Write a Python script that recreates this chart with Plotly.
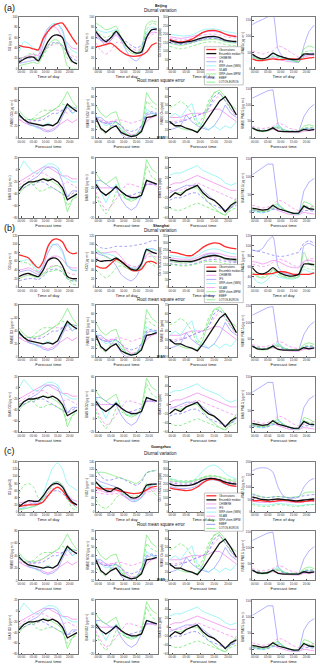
import plotly.graph_objects as go

W, H = 320, 664

# hourly samples (every 2 h) shared by every panel
HOURS = list(range(-1, 24, 2))
TICK_HOURS = [0, 5, 10, 15, 20]
TICK_TEXT = ["00:00", "05:00", "10:00", "15:00", "20:00"]

LEGEND_ORDER = ["obs", "med", "chimere", "ifs", "wrfsms", "silam", "wrfmpim", "emep", "lotos"]
LEGEND_TEXT = ["Observations", "Ensemble median", "CHIMERE", "IFS", "WRF-chem (SMS)",
               "SILAM", "WRF-chem-MPIM", "EMEP", "LOTOS-EUROS"]

STYLE = {
    "obs": dict(color="#FF2A2A", width=1.3, dash="solid"),
    "med": dict(color="#111111", width=1.3, dash="solid"),
    "chimere": dict(color="#EE80EE", width=0.7, dash="solid"),
    "ifs": dict(color="#9090FF", width=0.7, dash="solid"),
    "wrfsms": dict(color="#78F0F0", width=0.7, dash="solid"),
    "silam": dict(color="#F590EE", width=0.8, dash="3px,2px"),
    "wrfmpim": dict(color="#74E874", width=0.7, dash="solid"),
    "emep": dict(color="#8484F2", width=0.8, dash="3px,2px"),
    "lotos": dict(color="#74E874", width=0.8, dash="3px,2px"),
}
DRAW_ORDER = ["chimere", "ifs", "wrfsms", "silam", "wrfmpim", "emep", "lotos", "obs", "med"]

# ---------------- Beijing diurnal ----------------
BJ_O3 = dict(
    obs=[45, 42, 41, 38, 36, 58, 72, 82, 87, 88, 75, 60, 47],
    med=[12, 18, 22, 22, 15, 33, 52, 63, 65, 60, 30, 14, 9],
    wrfsms=[32, 52, 48, 40, 34, 55, 78, 87, 86, 70, 45, 35, 30],
    ifs=[10, 12, 14, 16, 18, 45, 72, 84, 86, 75, 35, 15, 10],
    chimere=[20, 22, 25, 28, 25, 60, 78, 82, 76, 60, 50, 40, 38],
    silam=[18, 20, 22, 24, 28, 35, 42, 46, 48, 42, 35, 25, 22],
    wrfmpim=[5, 8, 10, 12, 10, 28, 45, 55, 55, 40, 5, 0, 0],
    lotos=[20, 22, 28, 30, 15, 25, 40, 48, 50, 45, 20, 12, 10],
    emep=[15, 20, 20, 22, 22, 30, 45, 50, 50, 45, 30, 20, 15],
)
BJ_NO2 = dict(
    obs=[42, 44, 47, 49, 42, 33, 27, 24, 24, 26, 32, 45, 50],
    med=[72, 60, 52, 60, 72, 60, 45, 35, 30, 32, 60, 75, 77],
    wrfmpim=[88, 82, 75, 78, 82, 60, 40, 30, 28, 40, 85, 92, 90],
    ifs=[70, 55, 45, 55, 70, 55, 35, 20, 15, 25, 60, 75, 75],
    wrfsms=[78, 72, 70, 72, 75, 60, 45, 35, 30, 40, 70, 80, 78],
    chimere=[65, 55, 50, 55, 65, 55, 45, 35, 30, 35, 60, 70, 70],
    silam=[50, 35, 28, 35, 50, 50, 45, 40, 35, 40, 55, 65, 70],
    emep=[60, 55, 55, 60, 68, 60, 52, 45, 40, 45, 65, 75, 75],
    lotos=[75, 65, 60, 65, 75, 60, 45, 35, 30, 35, 75, 88, 85],
)
BJ_OX = dict(
    obs=[170, 160, 155, 160, 170, 190, 210, 220, 222, 215, 200, 190, 185],
    med=[165, 155, 150, 155, 160, 170, 180, 185, 187, 180, 165, 160, 158],
    wrfsms=[200, 195, 190, 190, 195, 210, 225, 230, 230, 225, 215, 210, 205],
    chimere=[185, 180, 175, 180, 185, 195, 210, 215, 215, 210, 200, 195, 190],
    ifs=[160, 150, 145, 150, 155, 165, 175, 180, 180, 170, 160, 155, 150],
    wrfmpim=[150, 140, 135, 140, 150, 160, 165, 168, 170, 165, 155, 150, 148],
    silam=[175, 170, 165, 170, 175, 185, 195, 200, 200, 195, 185, 180, 178],
    emep=[150, 145, 140, 145, 150, 160, 170, 175, 175, 170, 160, 155, 152],
    lotos=[130, 120, 115, 120, 130, 140, 150, 155, 155, 150, 140, 135, 132],
)
BJ_PM = dict(
    ifs=[136, 145, 152, 160, 168, 60, 35, 28, 25, 20, 70, 115, 135],
    obs=[30, 25, 25, 28, 30, 28, 28, 30, 30, 28, 30, 33, 35],
    med=[45, 35, 30, 35, 48, 40, 35, 30, 28, 30, 45, 45, 45],
    silam=[55, 50, 45, 50, 55, 70, 65, 55, 45, 35, 40, 45, 50],
    wrfmpim=[40, 30, 25, 35, 50, 40, 35, 30, 25, 20, 60, 70, 65],
    chimere=[30, 25, 25, 28, 35, 30, 25, 22, 20, 20, 35, 40, 40],
    wrfsms=[35, 30, 25, 30, 40, 35, 30, 25, 22, 20, 40, 45, 45],
    emep=[40, 35, 30, 35, 45, 40, 35, 30, 28, 25, 40, 45, 45],
    lotos=[35, 30, 28, 30, 38, 35, 30, 28, 25, 22, 50, 55, 55],
)

# ---------------- Shanghai diurnal ----------------
SH_O3 = dict(
    obs=[75, 72, 68, 55, 45, 60, 95, 110, 112, 105, 85, 78, 80],
    med=[25, 30, 32, 28, 25, 40, 62, 68, 65, 50, 25, 20, 20],
    wrfsms=[60, 62, 65, 50, 38, 60, 90, 100, 95, 80, 50, 40, 40],
    ifs=[35, 38, 40, 35, 30, 50, 80, 98, 100, 85, 50, 40, 38],
    chimere=[40, 42, 45, 40, 35, 45, 65, 72, 72, 65, 50, 45, 45],
    silam=[25, 28, 30, 28, 25, 32, 45, 50, 50, 45, 35, 30, 30],
    wrfmpim=[20, 25, 28, 25, 22, 30, 42, 48, 50, 40, 20, 15, 15],
    emep=[15, 18, 20, 20, 18, 25, 38, 42, 42, 35, 20, 15, 15],
    lotos=[60, 58, 55, 45, 35, 30, 35, 38, 40, 35, 20, 8, 5],
)
SH_NO2 = dict(
    obs=[50, 45, 45, 55, 65, 60, 50, 40, 38, 42, 58, 60, 55],
    med=[65, 60, 62, 62, 68, 60, 50, 42, 40, 55, 88, 82, 78],
    emep=[100, 92, 90, 92, 95, 95, 95, 96, 98, 100, 103, 108, 108],
    ifs=[80, 75, 72, 65, 50, 30, 20, 15, 25, 50, 85, 90, 85],
    wrfsms=[85, 80, 78, 75, 70, 60, 50, 45, 45, 60, 90, 88, 85],
    chimere=[80, 80, 80, 82, 82, 70, 55, 45, 45, 55, 75, 80, 78],
    silam=[70, 62, 60, 62, 65, 62, 55, 50, 48, 55, 70, 72, 70],
    wrfmpim=[90, 80, 70, 65, 60, 55, 45, 40, 40, 55, 85, 75, 60],
    lotos=[40, 30, 22, 30, 45, 50, 45, 40, 40, 45, 60, 55, 45],
)
SH_OX = dict(
    obs=[240, 235, 225, 215, 215, 240, 270, 290, 300, 295, 275, 265, 260],
    med=[185, 180, 175, 175, 175, 185, 200, 210, 215, 210, 195, 190, 188],
    wrfsms=[215, 210, 205, 200, 200, 215, 240, 255, 260, 255, 240, 230, 225],
    chimere=[200, 195, 190, 190, 190, 200, 220, 230, 232, 228, 215, 208, 205],
    ifs=[180, 178, 175, 172, 170, 185, 210, 225, 225, 210, 190, 180, 175],
    silam=[175, 170, 165, 165, 168, 180, 195, 200, 200, 195, 185, 180, 178],
    wrfmpim=[175, 170, 165, 165, 170, 185, 205, 215, 215, 205, 190, 185, 180],
    emep=[160, 155, 150, 150, 155, 165, 180, 185, 188, 185, 175, 170, 168],
    lotos=[155, 150, 145, 145, 150, 160, 170, 175, 175, 170, 160, 155, 152],
)
SH_PM = dict(
    ifs=[92, 90, 95, 110, 118, 60, 48, 45, 45, 42, 100, 105, 100],
    obs=[45, 45, 45, 46, 47, 50, 50, 48, 45, 45, 45, 45, 48],
    med=[58, 48, 46, 50, 58, 50, 45, 42, 42, 45, 65, 65, 64],
    silam=[65, 62, 60, 62, 68, 75, 72, 68, 62, 60, 70, 75, 75],
    chimere=[70, 68, 65, 68, 72, 70, 65, 60, 58, 58, 70, 72, 70],
    emep=[92, 90, 88, 85, 82, 80, 80, 82, 85, 88, 105, 110, 105],
    wrfmpim=[50, 40, 38, 42, 55, 45, 40, 38, 38, 40, 88, 65, 60],
    wrfsms=[42, 30, 28, 35, 45, 40, 38, 36, 36, 40, 55, 50, 48],
    lotos=[48, 42, 40, 45, 52, 48, 42, 40, 40, 42, 60, 55, 55],
)

# ---------------- Guangzhou diurnal ----------------
GZ_O3 = dict(
    obs=[15, 18, 20, 20, 22, 28, 45, 62, 70, 60, 40, 25, 20],
    med=[15, 25, 32, 30, 30, 45, 65, 78, 80, 70, 45, 28, 20],
    wrfsms=[10, 10, 12, 15, 20, 50, 90, 125, 138, 120, 80, 70, 60],
    ifs=[8, 12, 20, 25, 25, 40, 65, 82, 85, 75, 50, 30, 20],
    chimere=[25, 28, 30, 30, 32, 45, 62, 75, 78, 70, 50, 35, 30],
    silam=[15, 20, 25, 25, 25, 35, 55, 65, 68, 60, 40, 25, 20],
    wrfmpim=[5, 8, 12, 15, 20, 40, 65, 80, 85, 75, 45, 25, 10],
    lotos=[50, 75, 80, 70, 40, 35, 55, 75, 80, 70, 40, 10, 5],
    emep=[15, 18, 20, 22, 22, 30, 48, 58, 60, 52, 35, 22, 15],
)
GZ_NO2 = dict(
    obs=[70, 65, 65, 65, 62, 58, 55, 52, 52, 55, 62, 70, 72],
    med=[85, 70, 60, 58, 68, 62, 50, 40, 40, 50, 75, 78, 78],
    emep=[122, 100, 90, 90, 95, 95, 88, 80, 75, 85, 110, 115, 115],
    wrfmpim=[110, 112, 110, 105, 100, 95, 90, 85, 80, 90, 110, 115, 118],
    ifs=[95, 85, 80, 75, 70, 55, 40, 30, 30, 40, 65, 75, 80],
    wrfsms=[80, 75, 70, 65, 65, 55, 45, 35, 32, 40, 70, 75, 78],
    chimere=[65, 60, 55, 55, 60, 50, 40, 35, 35, 42, 60, 65, 65],
    silam=[55, 52, 50, 50, 52, 48, 42, 38, 38, 42, 55, 58, 60],
    lotos=[35, 15, 10, 20, 40, 50, 50, 45, 45, 55, 80, 60, 45],
)
GZ_OX = dict(
    obs=[170, 160, 155, 150, 155, 175, 205, 225, 230, 220, 200, 185, 180],
    med=[195, 185, 185, 185, 190, 205, 225, 235, 235, 225, 210, 200, 195],
    wrfsms=[240, 225, 215, 210, 215, 245, 290, 320, 330, 310, 270, 245, 235],
    chimere=[200, 190, 185, 185, 190, 205, 225, 235, 235, 225, 210, 200, 195],
    ifs=[180, 170, 165, 165, 170, 185, 210, 225, 225, 215, 195, 185, 180],
    silam=[215, 210, 205, 205, 210, 220, 235, 240, 240, 232, 220, 212, 208],
    wrfmpim=[220, 215, 210, 210, 215, 225, 240, 250, 252, 245, 230, 220, 215],
    emep=[205, 200, 195, 195, 200, 210, 225, 232, 232, 225, 212, 205, 200],
    lotos=[230, 225, 220, 220, 222, 230, 245, 255, 255, 248, 235, 228, 225],
)
GZ_PM = dict(
    ifs=[165, 175, 178, 175, 160, 100, 65, 55, 55, 60, 100, 125, 135],
    obs=[45, 45, 45, 42, 42, 45, 48, 45, 42, 40, 42, 45, 45],
    med=[60, 55, 50, 48, 50, 52, 50, 48, 45, 45, 48, 50, 52],
    wrfmpim=[75, 65, 60, 58, 60, 62, 60, 58, 60, 62, 75, 80, 80],
    emep=[70, 65, 60, 58, 60, 62, 60, 58, 58, 60, 65, 68, 70],
    chimere=[45, 40, 38, 38, 40, 42, 42, 40, 38, 38, 40, 42, 42],
    silam=[55, 50, 45, 45, 48, 50, 50, 48, 45, 45, 48, 50, 52],
    wrfsms=[35, 30, 28, 28, 30, 35, 32, 30, 28, 25, 28, 30, 30],
    lotos=[30, 25, 22, 22, 25, 30, 28, 25, 22, 22, 25, 28, 30],
)

# ---------------- RMSE / BIAS (same panels in every block) ----------------
RMSE_O3 = dict(
    med=[38, 30, 25, 23, 22, 20, 22, 20, 25, 40, 55, 48, 43],
    wrfmpim=[45, 35, 30, 30, 32, 35, 40, 45, 50, 60, 75, 60, 50],
    wrfsms=[40, 30, 25, 20, 15, 20, 25, 20, 25, 45, 55, 40, 45],
    ifs=[38, 30, 22, 20, 18, 12, 10, 12, 18, 35, 50, 40, 45],
    chimere=[30, 25, 22, 20, 18, 15, 12, 15, 20, 25, 30, 25, 30],
    silam=[30, 28, 27, 28, 30, 35, 40, 45, 45, 45, 40, 45, 45],
    emep=[35, 30, 30, 28, 28, 30, 35, 40, 40, 45, 50, 50, 48],
    lotos=[38, 30, 30, 32, 40, 45, 45, 45, 50, 55, 52, 50, 48],
)
RMSE_NO2 = dict(
    med=[35, 22, 17, 22, 25, 17, 14, 12, 13, 18, 35, 36, 38],
    wrfmpim=[50, 40, 35, 40, 42, 25, 15, 12, 15, 20, 65, 55, 50],
    wrfsms=[38, 30, 25, 28, 30, 20, 15, 12, 14, 20, 45, 40, 38],
    ifs=[35, 35, 30, 25, 25, 15, 10, 12, 14, 25, 38, 40, 40],
    chimere=[35, 30, 28, 30, 30, 25, 18, 14, 15, 20, 30, 35, 37],
    silam=[35, 32, 30, 30, 32, 32, 30, 28, 30, 32, 35, 35, 37],
    emep=[35, 30, 28, 28, 30, 25, 20, 18, 20, 25, 40, 42, 40],
    lotos=[25, 20, 15, 25, 30, 20, 15, 12, 13, 20, 55, 48, 45],
)
RMSE_OX = dict(
    med=[30, 25, 25, 22, 20, 17, 25, 35, 45, 55, 60, 50, 38],
    wrfmpim=[30, 25, 22, 20, 20, 18, 30, 50, 65, 68, 60, 50, 45],
    lotos=[47, 50, 55, 50, 40, 25, 35, 55, 65, 65, 55, 45, 40],
    wrfsms=[35, 40, 35, 45, 52, 30, 25, 20, 25, 20, 25, 22, 30],
    ifs=[20, 22, 25, 38, 30, 25, 22, 20, 25, 35, 50, 40, 35],
    chimere=[35, 35, 35, 38, 40, 40, 40, 42, 45, 45, 40, 35, 30],
    silam=[30, 30, 32, 32, 35, 38, 40, 45, 55, 63, 60, 45, 35],
    emep=[28, 28, 30, 32, 35, 38, 40, 45, 60, 65, 55, 45, 38],
)
RMSE_PM = dict(
    ifs=[122, 130, 138, 145, 148, 40, 25, 20, 18, 18, 65, 90, 103],
    med=[30, 22, 20, 22, 30, 20, 18, 18, 18, 18, 25, 22, 25],
    silam=[35, 30, 28, 30, 35, 45, 40, 30, 25, 22, 25, 25, 28],
    wrfmpim=[30, 20, 18, 20, 28, 35, 22, 18, 18, 18, 35, 40, 35],
    wrfsms=[30, 22, 20, 22, 30, 40, 25, 20, 18, 18, 28, 28, 25],
    chimere=[28, 22, 20, 22, 25, 22, 18, 16, 15, 15, 20, 22, 22],
    emep=[30, 25, 22, 24, 30, 30, 22, 20, 20, 20, 28, 30, 30],
    lotos=[30, 25, 22, 25, 30, 30, 25, 20, 20, 20, 30, 32, 30],
)
BIAS_O3 = dict(
    med=[-35, -25, -20, -20, -18, -15, -18, -15, -20, -30, -50, -45, -40],
    wrfsms=[0, 15, 5, -5, -5, 5, 10, 10, 5, -10, -15, -20, -20],
    chimere=[-20, -15, -10, -5, 0, 5, 5, 0, -5, -10, -10, -15, -15],
    ifs=[-30, -25, -20, -15, -10, 0, 5, 5, 0, -20, -45, -35, -35],
    wrfmpim=[-40, -30, -25, -20, -20, -15, -15, -20, -25, -35, -70, -50, -40],
    silam=[-25, -20, -15, -10, -5, -5, -10, -15, -20, -25, -20, -25, -30],
    emep=[-35, -30, -25, -25, -20, -20, -25, -30, -35, -40, -45, -40, -35],
    lotos=[-30, -25, -20, -25, -35, -35, -30, -30, -35, -40, -60, -50, -45],
)
BIAS_NO2 = dict(
    med=[25, 15, 10, 15, 22, 15, 10, 7, 7, 10, 30, 28, 25],
    wrfmpim=[40, 30, 25, 30, 35, 15, 5, 2, 5, 15, 58, 45, 40],
    wrfsms=[30, 15, 0, 15, 25, 15, 5, 5, 5, 10, 30, 28, 25],
    ifs=[30, 30, 25, 20, 20, 5, -5, -10, -5, 10, 30, 28, 25],
    chimere=[25, 20, 20, 20, 20, 15, 10, 8, 8, 10, 25, 25, 25],
    silam=[15, 0, -10, -5, 5, 15, 25, 25, 22, 20, 25, 25, 22],
    emep=[20, 15, 10, 15, 20, 15, 10, 10, 12, 15, 25, 25, 25],
    lotos=[10, -5, -15, -5, 15, 10, 5, 5, 8, 10, 50, 35, 30],
)
BIAS_OX = dict(
    med=[-20, -10, -15, -5, 0, 5, -10, -20, -25, -35, -48, -35, -28],
    wrfsms=[25, 30, 30, 35, 40, 45, 35, 30, 25, 20, 10, 5, 10],
    chimere=[5, 10, 10, 15, 20, 25, 20, 15, 10, 5, 0, -5, -5],
    ifs=[-10, -5, 0, 5, 5, 5, -5, -15, -25, -35, -45, -40, -30],
    wrfmpim=[-20, -10, -10, -5, 0, 0, -15, -30, -40, -50, -55, -40, -20],
    silam=[-5, -5, -5, 0, 5, 10, 5, 0, -5, -10, -15, -20, -25],
    emep=[-25, -20, -20, -15, -10, -10, -20, -30, -35, -40, -48, -40, -35],
    lotos=[-40, -45, -45, -40, -35, -30, -35, -40, -45, -50, -55, -45, -40],
)
BIAS_PM = dict(
    ifs=[105, 115, 125, 135, 135, 20, 10, 0, -3, -5, 60, 85, 95],
    med=[12, 8, 6, 8, 20, 10, 5, 0, -3, -2, 18, 10, 8],
    silam=[20, 15, 12, 15, 20, 35, 30, 20, 10, 5, 10, 15, 18],
    wrfmpim=[10, 3, 2, 5, 18, 25, 10, 0, -3, -5, 30, 25, 15],
    wrfsms=[5, 0, -2, 2, 10, 22, 8, 0, -5, -5, 15, 10, 5],
    chimere=[10, 5, 5, 8, 12, 5, 0, -5, -7, -7, 0, -3, -5],
    emep=[5, 2, 0, 2, 8, 10, 5, 0, -3, -3, 5, 5, 3],
    lotos=[8, 5, 3, 5, 12, 15, 8, 2, -3, -3, 20, 15, 10],
)

UG = "(μg m⁻³)"
RMSE_ROW = [
    (RMSE_O3, f"RMSE O3 {UG}", [0, 80], 20),
    (RMSE_NO2, f"RMSE NO2 {UG}", [10, 70], 10),
    (RMSE_OX, "RMSE Ox (ppb)", [10, 70], 10),
    (RMSE_PM, f"RMSE PM2.5 {UG}", [-2, 152], 50),
]
BIAS_ROW = [
    (BIAS_O3, f"BIAS O3 {UG}", [-80, 20], 20),
    (BIAS_NO2, f"BIAS NO2 {UG}", [-20, 60], 20),
    (BIAS_OX, "BIAS Ox (ppb)", [-60, 60], 20),
    (BIAS_PM, f"BIAS PM2.5 {UG}", [-15, 152], 50),
]

SECTIONS = [
    dict(tag="(a)", city="Beijing", rows=[(15, 67), (87, 137), (157, 217)],
         tag_y=6, city_y=4, sub_y=9, rmse_y=79, legend_top=45,
         diurnal=[(BJ_O3, f"O3 {UG}", [0, 100], 20), (BJ_NO2, f"NO2 {UG}", [0, 100], 20),
                  (BJ_OX, "Ox = NO2+O3 (ppb)", [0, 300], 50), (BJ_PM, f"PM2.5 {UG}", [0, 160], 50)]),
    dict(tag="(b)", city="Shanghai", rows=[(235, 287), (305, 357), (377, 433)],
         tag_y=227, city_y=225, sub_y=230, rmse_y=299, legend_top=264,
         diurnal=[(SH_O3, f"O3 {UG}", [0, 120], 20), (SH_NO2, f"NO2 {UG}", [0, 120], 20),
                  (SH_OX, "Ox = NO2+O3 (ppb)", [0, 350], 50), (SH_PM, f"PM2.5 {UG}", [20, 120], 20)]),
    dict(tag="(c)", city="Guangzhou", rows=[(463, 513), (532, 582), (602, 656)],
         tag_y=452, city_y=448, sub_y=454, rmse_y=526, legend_top=494,
         diurnal=[(GZ_O3, "O3 (μg/m3)", [0, 140], 20), (GZ_NO2, f"NO2 {UG}", [0, 140], 20),
                  (GZ_OX, "Ox = NO2+O3 (ppb)", [0, 350], 50), (GZ_PM, f"PM2.5 {UG}", [0, 200], 50)]),
]

COLS = [(18, 77), (95, 157), (169, 237), (252, 315)]


def px(x):
    return x / W


def py(y):
    return 1 - y / H


fig = go.Figure()
layout = {}
annotations = []
shapes = []
n = 0

for sec in SECTIONS:
    rows = [sec["diurnal"], RMSE_ROW, BIAS_ROW]
    xtitles = ["Time of day", "Forecast time", "Forecast time"]
    for r, row in enumerate(rows):
        top, bot = sec["rows"][r]
        for c, (panel, ytitle, yrange, dtick) in enumerate(row):
            n += 1
            sfx = "" if n == 1 else str(n)
            for key in DRAW_ORDER:
                if key not in panel:
                    continue
                st = STYLE[key]
                fig.add_trace(go.Scatter(
                    x=HOURS, y=panel[key], mode="lines", xaxis="x" + sfx, yaxis="y" + sfx,
                    line=dict(color=st["color"], width=st["width"], dash=st["dash"],
                              shape="spline" if r == 0 else "linear", smoothing=0.6),
                    showlegend=False, hoverinfo="skip"))
            common = dict(showline=True, mirror=True, linecolor="#7a7a7a", linewidth=0.6,
                          showgrid=False, zeroline=False, ticks="inside", ticklen=1.5,
                          tickwidth=0.5, tickcolor="#555", tickfont=dict(size=3, color="#333"))
            layout["xaxis" + sfx] = dict(
                common, domain=[px(COLS[c][0]), px(COLS[c][1])], anchor="y" + sfx,
                range=[-1, 23.3], tickvals=TICK_HOURS, ticktext=TICK_TEXT,
                title=dict(text=xtitles[r], font=dict(size=4.3, color="#222"), standoff=1))
            layout["yaxis" + sfx] = dict(
                common, domain=[py(bot), py(top)], anchor="x" + sfx,
                range=yrange, dtick=dtick,
                title=dict(text=ytitle, font=dict(size=3.2, color="#222"), standoff=1))

    # block headings
    annotations += [
        dict(text=sec["tag"], x=px(1), y=py(sec["tag_y"]), xanchor="left", yanchor="middle",
             font=dict(size=9, color="#111")),
        dict(text="<b>" + sec["city"] + "</b>", x=px(160), y=py(sec["city_y"]),
             xanchor="center", yanchor="middle", font=dict(size=3.6, color="#111")),
        dict(text="Diurnal variation", x=px(160), y=py(sec["sub_y"]),
             xanchor="center", yanchor="middle", font=dict(size=4.5, color="#111")),
        dict(text="Root mean square error", x=px(160), y=py(sec["rmse_y"]),
             xanchor="center", yanchor="middle", font=dict(size=4.5, color="#111")),
        dict(text="<b>BIAS</b>", x=px(161), y=py(sec["rows"][1][1]),
             xanchor="center", yanchor="middle", font=dict(size=3.4, color="#111")),
    ]

    # legend box drawn by hand (plotly legend rows can't be this small)
    lt = sec["legend_top"]
    step = 4.1
    shapes.append(dict(type="rect", xref="paper", yref="paper", layer="above",
                       x0=px(204), x1=px(243), y0=py(lt + 9 * step + 1.5), y1=py(lt),
                       fillcolor="white", line=dict(color="#8a8a8a", width=0.5)))
    for i, (key, label) in enumerate(zip(LEGEND_ORDER, LEGEND_TEXT)):
        yy = lt + 2.8 + i * step
        st = STYLE[key]
        shapes.append(dict(type="line", xref="paper", yref="paper", layer="above",
                           x0=px(206), x1=px(216), y0=py(yy), y1=py(yy),
                           line=dict(color=st["color"], width=st["width"],
                                     dash="dash" if st["dash"] != "solid" else "solid")))
        annotations.append(dict(text=label, x=px(218), y=py(yy), xanchor="left", yanchor="middle",
                                font=dict(size=2.7, color="#222"), borderpad=0))

for a in annotations:
    a.update(xref="paper", yref="paper", showarrow=False)

fig.update_layout(
    width=W, height=H, autosize=False,
    margin=dict(l=0, r=0, t=0, b=0),
    paper_bgcolor="white", plot_bgcolor="white",
    font=dict(family="Liberation Sans, Arial, sans-serif", color="#222"),
    showlegend=False,
    annotations=annotations, shapes=shapes,
    **layout,
)

# drop the browser's default 8px page margin so the 320x664 figure fills the window
fig.write_html("out.html", config={"displayModeBar": False},
               post_script="document.body.style.margin='0';document.body.style.overflow='hidden';")
